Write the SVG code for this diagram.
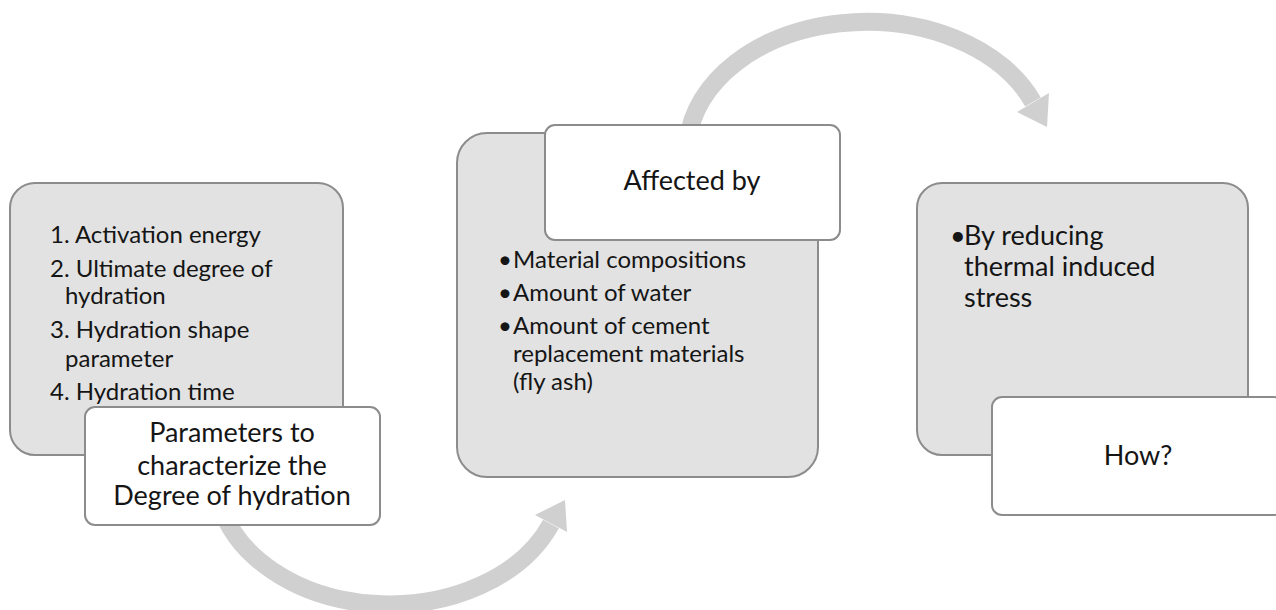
<svg xmlns="http://www.w3.org/2000/svg" width="1276" height="610" viewBox="0 0 1276 610">
<defs>
<style>
.gray{fill:#e2e2e2;stroke:#8c8c8c;stroke-width:2}
.white{fill:#ffffff;stroke:#8c8c8c;stroke-width:2}
.arc{fill:none;stroke:#d0d0d0;stroke-width:18}
.head{fill:#d0d0d0}
text{font-family:Lato,"Liberation Sans",sans-serif;fill:#151515}
.t26{font-size:24px}
.t29{font-size:27px}
.c{text-anchor:middle}
</style>
</defs>
<rect width="1276" height="610" fill="#ffffff"/>
<g id="connectors">
<path class="arc" d="M 688 140 A 179.5 129 0 0 1 1033 102"/>
<polygon class="head" points="1017,112 1049,93 1047,127"/>
<path class="arc" d="M 219 500 A 174 129 0 0 0 551 524"/>
<polygon class="head" points="535,515 565,500 567,532"/>
</g>
<g id="params-list">
<rect class="gray" x="10" y="183" width="333" height="272" rx="25"/>
<text class="t26" x="50" y="243">1. Activation energy</text>
<text class="t26" x="50" y="277">2. Ultimate degree of</text>
<text class="t26" x="65" y="304">hydration</text>
<text class="t26" x="50" y="338">3. Hydration shape</text>
<text class="t26" x="65" y="367">parameter</text>
<text class="t26" x="50" y="400">4. Hydration time</text>
</g>
<g id="params-title">
<rect class="white" x="85" y="407" width="295" height="118" rx="10"/>
<text class="t29 c" x="232" y="442">Parameters to</text>
<text class="t29 c" x="232" y="475">characterize the</text>
<text class="t29 c" x="232" y="505">Degree of hydration</text>
</g>
<g id="affected-list">
<rect class="gray" x="457" y="133" width="361" height="344" rx="30"/>
<text class="t26" x="498" y="268">•</text>
<text class="t26" x="513" y="268">Material compositions</text>
<text class="t26" x="498" y="301">•</text>
<text class="t26" x="513" y="301">Amount of water</text>
<text class="t26" x="498" y="334">•</text>
<text class="t26" x="513" y="334">Amount of cement</text>
<text class="t26" x="513" y="362">replacement materials</text>
<text class="t26" x="513" y="390">(fly ash)</text>
</g>
<g id="affected-title">
<rect class="white" x="545" y="125" width="295" height="115" rx="10"/>
<text class="t29 c" x="692" y="190">Affected by</text>
</g>
<g id="how-list">
<rect class="gray" x="917" y="183" width="331" height="272" rx="25"/>
<text class="t29" x="950" y="245">•</text>
<text class="t29" x="964" y="245">By reducing</text>
<text class="t29" x="964" y="276">thermal induced</text>
<text class="t29" x="964" y="307">stress</text>
</g>
<g id="how-title">
<rect class="white" x="992" y="397" width="292" height="118" rx="10"/>
<text class="t29 c" x="1138" y="465">How?</text>
</g>
</svg>
